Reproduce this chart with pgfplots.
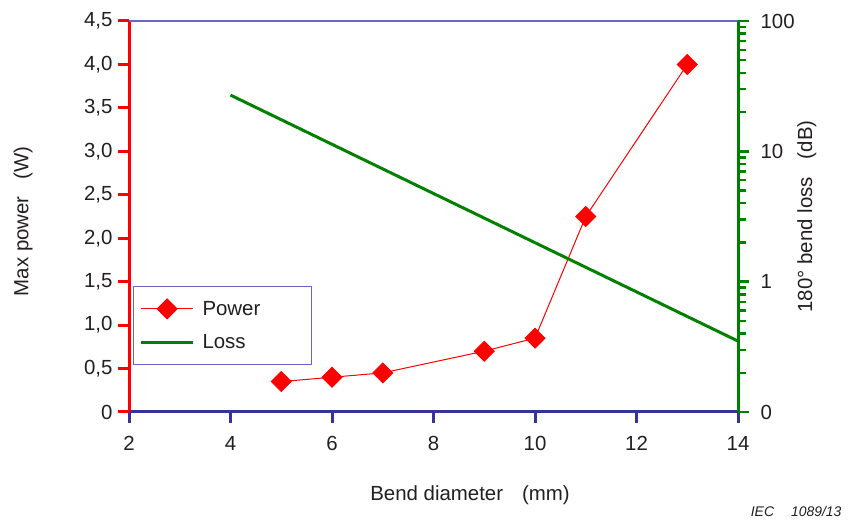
\documentclass[border=0pt]{standalone}
\usepackage{fontspec}
\setmainfont{Liberation Sans}
\usepackage{pgfplots}
\pgfplotsset{compat=1.18}
\definecolor{navy}{RGB}{51,51,153}
\definecolor{framec}{RGB}{102,102,204}
\definecolor{lossgreen}{RGB}{0,128,0}
\definecolor{txt}{RGB}{35,31,32}
\newcommand{\bigf}{\fontsize{20.5}{24}\selectfont}
\begin{document}
\begin{tikzpicture}[x=1bp,y=1bp]
\useasboundingbox (0,0) rectangle (850,525);
\begin{axis}[
  at={(129bp,113bp)}, anchor=south west,
  scale only axis, width=609bp, height=391bp,
  xmin=2, xmax=14, ymin=0, ymax=4.5,
  clip=false,
  axis x line*=bottom, axis y line*=left,
  x axis line style={navy, line width=3bp, -},
  y axis line style={red, line width=3bp, -},
  xtick={2,4,...,14},
  xticklabels={2,4,6,8,10,12,14},
  ytick={0,0.5,1,1.5,2,2.5,3,3.5,4,4.5},
  yticklabels={0,{0,5},{1,0},{1,5},{2,0},{2,5},{3,0},{3,5},{4,0},{4,5}},
  tick align=outside, major tick length=11bp,
  x tick style={navy, line width=3bp},
  y tick style={red, line width=3bp},
  tick label style={font=\bigf, text=txt},
  xticklabel style={yshift=-10bp},
  yticklabel style={xshift=-2bp},
  xlabel={Bend diameter\hspace{19bp}(mm)},
  ylabel={Max power\hspace{17bp}(W)},
  every axis x label/.style={at={(axis description cs:0.56,-0.212)}, anchor=center, font=\bigf, text=txt},
  every axis y label/.style={at={(axis description cs:-0.174,0.488)}, anchor=center, rotate=90, font=\bigf, text=txt},
  legend style={at={(rel axis cs:0.0066,0.321)}, anchor=north west,
    draw=framec, line width=1bp, fill=white, font=\bigf, text=txt,
    inner xsep=6bp, inner ysep=12bp, row sep=14bp, column sep=6bp, cells={anchor=west}},
  legend image code/.code={\draw[mark repeat=2,mark phase=2,#1] plot coordinates {(0bp,0bp) (26bp,0bp) (52bp,0bp)};},
]
\draw[framec, line width=1.2bp] (rel axis cs:0,1) -- (rel axis cs:1,1);
\addplot[red, line width=1bp, mark=square*, mark size=7bp, mark options={rotate=45, solid}]
  coordinates {(5,0.35) (6,0.40) (7,0.45) (9,0.70) (10,0.85) (11,2.25) (13,4.00)};
\addlegendentry{\makebox[101bp][l]{Power}}
\addlegendimage{lossgreen, line width=3bp}
\addlegendentry{Loss}
\end{axis}
\begin{axis}[
  at={(129bp,113bp)}, anchor=south west,
  scale only axis, width=609bp, height=391bp,
  xmin=2, xmax=14, ymode=log, ymin=0.1, ymax=100,
  axis x line=none, axis y line*=right,
  y axis line style={lossgreen, line width=3bp, -},
  ytick={0.1,1,10,100}, yticklabels={0,1,10,100},
  minor ytick={0.2,0.3,0.4,0.5,0.6,0.7,0.8,0.9,2,3,4,5,6,7,8,9,20,30,40,50,60,70,80,90},
  tick align=outside, major tick length=11bp, minor tick length=8bp,
  y tick style={lossgreen, line width=2.5bp},
  minor y tick style={lossgreen, line width=2.5bp},
  tick label style={font=\bigf, text=txt},
  yticklabel style={xshift=8bp},
  ylabel={180° bend loss\hspace{18bp}(dB)},
  every axis y label/.style={at={(axis description cs:1.113,0.5)}, anchor=center, rotate=90, font=\bigf, text=txt},
]
\addplot[lossgreen, line width=3bp] coordinates {(4,27) (14,0.35)};
\end{axis}
\node[anchor=base east, font=\itshape\fontsize{14}{17}\selectfont, text=txt] at (845bp,8bp) {IEC\hspace{17bp}1089/13};
\end{tikzpicture}
\end{document}
